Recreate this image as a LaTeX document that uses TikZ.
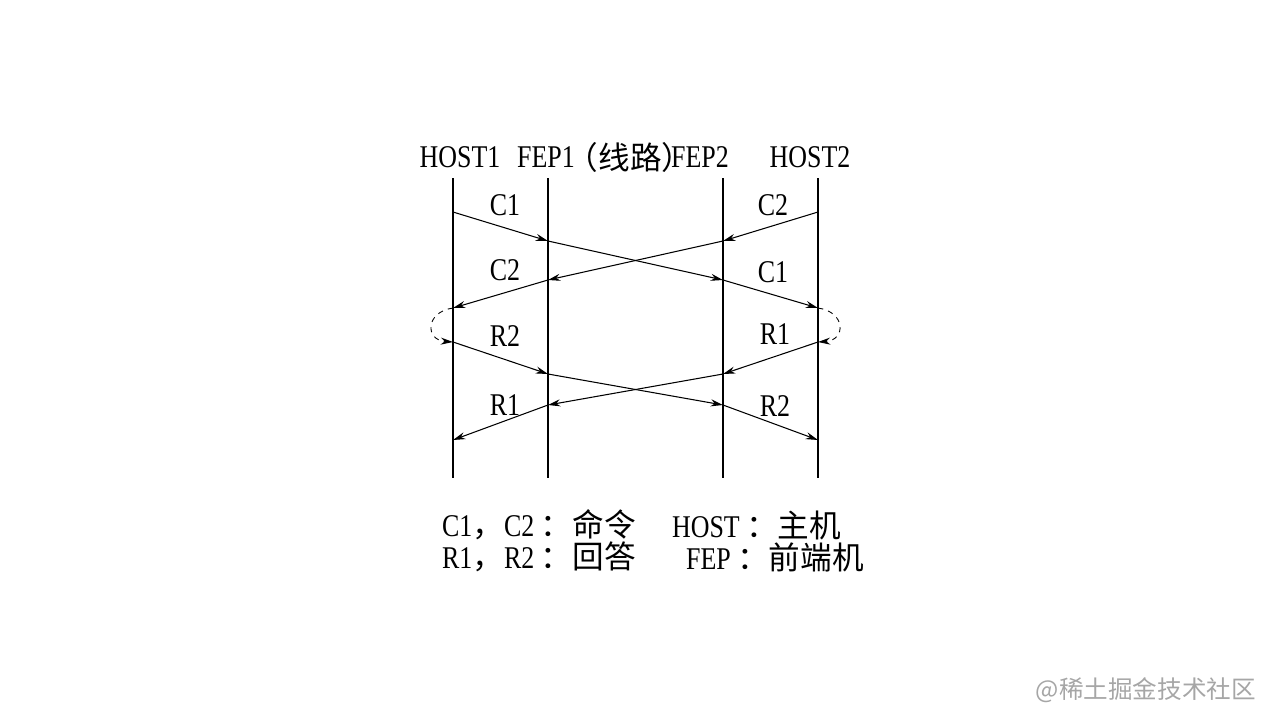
\documentclass[tikz,border=0pt]{standalone}
\usepackage{fontspec}
\setmainfont{Liberation Serif}[FakeStretch=0.82]
\newfontfamily\cjk{Noto Sans CJK SC}
\usetikzlibrary{arrows.meta}
\tikzset{every scope/.style={>={Stealth[length=7pt,width=4pt]}}}
\tikzset{lifeline/.style={line width=1.3pt}}
\tikzset{msg/.style={->,line width=0.6pt}}
\tikzset{lbl/.style={font=\fontsize{18}{18}\selectfont,inner sep=1pt}}
\tikzset{loopback/.style={->,dashed,line width=0.5pt}}
\begin{document}
\begin{tikzpicture}[x=0.02cm,y=-0.02cm]
    \useasboundingbox (0,0) rectangle (1280,720);

    % lifelines
    \foreach \name/\x in {host1/453,fep1/548,fep2/723,host2/818}{
        \coordinate (\name top) at (\x,178);
        \coordinate (\name bot) at (\x,478);
        \draw[lifeline] (\name top) -- (\name bot);
        \foreach \y/\k in {212/a,241/b,280/c,308/d,342/e,374/f,405/g,440/h}
            \coordinate (\name\k) at (\x,\y);
    }

    % header
    \node[lbl] (h1)   at (460,157) {HOST1};
    \node[lbl] (f1)   at (546,157) {FEP1};
    \node[lbl] (line) at (630,157) {\cjk（线路）};
    \node[lbl] (f2)   at (700,157) {FEP2};
    \node[lbl] (h2)   at (810,157) {HOST2};

    % commands
    \draw[msg] (host1a) -- (fep1b);
    \draw[msg] (fep1b) -- (fep2c);
    \draw[msg] (fep2c) -- (host2d);
    \draw[msg] (host2a) -- (fep2b);
    \draw[msg] (fep2b) -- (fep1c);
    \draw[msg] (fep1c) -- (host1d);

    % turn-around
    \draw[loopback] (host1d) .. controls (425,312) and (425,340) .. (host1e);
    \draw[loopback] (host2d) .. controls (846,312) and (846,340) .. (host2e);

    % responses
    \draw[msg] (host1e) -- (fep1f);
    \draw[msg] (fep1f) -- (fep2g);
    \draw[msg] (fep2g) -- (host2h);
    \draw[msg] (host2e) -- (fep2f);
    \draw[msg] (fep2f) -- (fep1g);
    \draw[msg] (fep1g) -- (host1h);

    % message labels
    \node[lbl] (c1a) at (505,205) {C1};
    \node[lbl] (c2a) at (773,205) {C2};
    \node[lbl] (c2b) at (505,270) {C2};
    \node[lbl] (c1b) at (773,272) {C1};
    \node[lbl] (r2a) at (505,336) {R2};
    \node[lbl] (r1a) at (775,334) {R1};
    \node[lbl] (r1b) at (505,405) {R1};
    \node[lbl] (r2b) at (775,406) {R2};

    % legend
    \node[lbl,anchor=west] (leg1) at (440,525) {C1{\cjk，}C2 {\cjk ：命令}};
    \node[lbl,anchor=west] (leg2) at (440,557) {R1{\cjk，}R2 {\cjk ：回答}};
    \node[lbl,anchor=west] (leg3) at (670,525) {HOST {\cjk ：主机}};
    \node[lbl,anchor=west] (leg4) at (684,557) {FEP {\cjk ：前端机}};

    % watermark
    \node[anchor=east,text=black!35,font=\cjk\fontsize{14}{14}\selectfont] (wm) at (1262,690) {@稀土掘金技术社区};
\end{tikzpicture}
\end{document}
